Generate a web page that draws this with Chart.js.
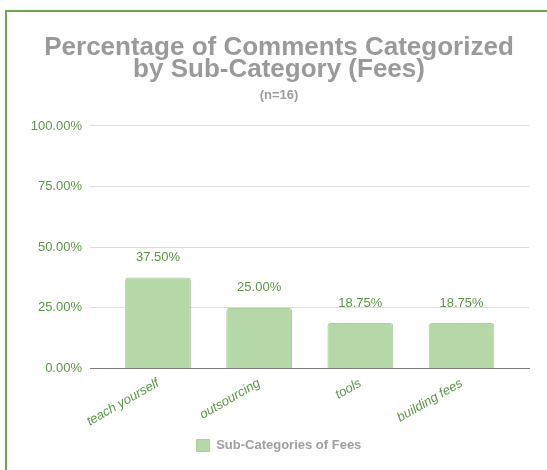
<!DOCTYPE html>
<html>
<head>
<meta charset="utf-8">
<script src="https://cdn.jsdelivr.net/npm/chart.js@4.4.1/dist/chart.umd.min.js"></script>
<style>
  html, body { margin: 0; padding: 0; background: #ffffff; overflow: hidden; }
  #frame { position: absolute; left: 5px; top: 10px; width: 600px; height: 520px; border: 2px solid #6aa84f; box-sizing: border-box; }
  #wrap { position: absolute; left: 0; top: 0; width: 547px; height: 470px; }
</style>
</head>
<body>
<div id="frame"></div>
<div id="wrap"><canvas id="c" width="547" height="470"></canvas></div>
<script>
const titleLines = ['Percentage of Comments Categorized', 'by Sub-Category (Fees)'];
const subtitleText = '(n=16)';
const categories = ['teach yourself', 'outsourcing', 'tools', 'building fees'];
const seriesName = 'Sub-Categories of Fees';
const values = [37.5, 25.0, 18.75, 18.75];
const yTicks = [0, 25, 50, 75, 100];

const GREEN_TEXT = '#5a9845';
const FONT = "'Liberation Sans', Arial, sans-serif";

const valueLabels = {
  id: 'valueLabels',
  afterDatasetsDraw(chart) {
    const ctx = chart.ctx;
    const meta = chart.getDatasetMeta(0);
    ctx.save();
    ctx.font = '13px ' + FONT;
    ctx.fillStyle = GREEN_TEXT;
    ctx.textAlign = 'center';
    ctx.textBaseline = 'middle';
    meta.data.forEach((bar, i) => {
      ctx.fillText(values[i].toFixed(2) + '%', bar.x, bar.y - 20);
    });
    ctx.restore();
  }
};

new Chart(document.getElementById('c'), {
  type: 'bar',
  data: {
    datasets: [{
      label: seriesName,
      data: categories.map((c, i) => ({ x: i, y: values[i] })),
      backgroundColor: '#b6d7a8',
      borderColor: '#a8cf96',
      borderWidth: 1,
      borderRadius: 3,
      categoryPercentage: 1.0,
      barPercentage: 0.65
    }]
  },
  options: {
    responsive: false,
    animation: false,
    layout: { padding: { left: 29, right: 18, top: 0, bottom: 8 } },
    scales: {
      x: {
        type: 'linear',
        offset: false,
        min: -0.672,
        max: 3.667,
        afterBuildTicks: (scale) => { scale.ticks = categories.map((c, i) => ({ value: i })); },
        afterFit: (scale) => { scale.height = 60.5; },
        grid: { display: false, drawTicks: false },
        border: { display: true, color: '#7d7d7d', width: 1 },
        ticks: {
          autoSkip: false,
          minRotation: 30,
          maxRotation: 30,
          padding: 7,
          color: GREEN_TEXT,
          font: { family: FONT, size: 13, style: 'italic' },
          callback: (v) => categories[v] !== undefined ? categories[v] : ''
        }
      },
      y: {
        min: 0,
        max: 100,
        afterBuildTicks: (scale) => { scale.ticks = yTicks.map(v => ({ value: v })); },
        afterFit: (scale) => { scale.width = 61; },
        grid: {
          color: (c) => c.tick && c.tick.value === 0 ? 'rgba(0,0,0,0)' : '#dedede',
          lineWidth: 1,
          drawTicks: false
        },
        border: { display: false },
        ticks: {
          padding: 8,
          color: GREEN_TEXT,
          font: { family: FONT, size: 13 },
          callback: (v) => Number(v).toFixed(2) + '%'
        }
      }
    },
    plugins: {
      title: {
        display: true,
        text: titleLines,
        color: '#9a9a9a',
        font: { family: FONT, size: 26, weight: 'bold', lineHeight: 0.85 },
        padding: { top: 37, bottom: 6.5 }
      },
      subtitle: {
        display: true,
        text: subtitleText,
        color: '#9e9e9e',
        font: { family: FONT, size: 13, weight: 'bold', lineHeight: 1.2 },
        padding: { top: 0, bottom: 22.7 }
      },
      legend: {
        display: true,
        position: 'bottom',
        labels: {
          boxWidth: 13,
          boxHeight: 12,
          padding: 10,
          color: '#a0a0a0',
          font: { family: FONT, size: 13, weight: 'bold' }
        }
      },
      tooltip: { enabled: false }
    }
  },
  plugins: [valueLabels]
});
</script>
</body>
</html>
